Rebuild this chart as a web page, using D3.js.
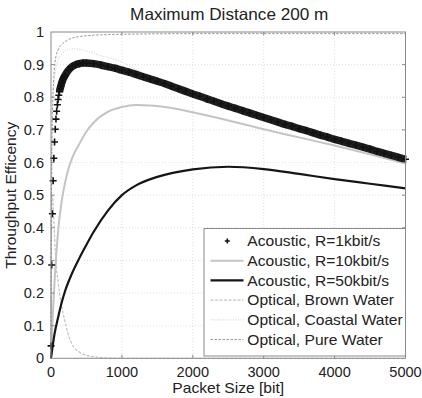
<!DOCTYPE html>
<html>
<head>
<meta charset="utf-8">
<script src="https://cdn.jsdelivr.net/npm/d3@7"></script>
<style>
  body { margin: 0; background: #fff; }
  text { font-family: "Liberation Sans", Arial, sans-serif; fill: #222; }
</style>
</head>
<body>
<div id="chart"></div>
<script>
// packet sizes [bit] and throughput efficiency
const r1Size = [1, 10, 20, 30, 40, 50, 60, 70, 80, 90, 100, 110, 120, 130, 140, 150, 160, 170, 180, 190, 200,
    250, 300, 350, 400, 450, 500, 600, 700, 800, 900, 1000, 1100, 1200, 1300, 1400, 1500, 1600, 1700, 1800, 1900,
    2000, 2100, 2200, 2300, 2400, 2500, 2600, 2700, 2800, 2900, 3000, 3100, 3200, 3300, 3400, 3500, 3600, 3700,
    3800, 3900, 4000, 4100, 4200, 4300, 4400, 4500, 4600, 4700, 4800, 4900, 5000];
const r1Eff = [0.038, 0.286, 0.443, 0.544, 0.613, 0.663, 0.702, 0.733, 0.757, 0.777, 0.793, 0.806, 0.817, 0.827, 0.835,
    0.843, 0.849, 0.855, 0.860, 0.864, 0.868, 0.884, 0.894, 0.900, 0.903, 0.905, 0.905, 0.903, 0.899, 0.894, 0.889,
    0.883, 0.877, 0.870, 0.863, 0.856, 0.849, 0.842, 0.834, 0.826, 0.818, 0.810, 0.803, 0.795, 0.788, 0.780, 0.773,
    0.766, 0.759, 0.752, 0.745, 0.738, 0.731, 0.724, 0.717, 0.711, 0.704, 0.698, 0.691, 0.684, 0.678, 0.671, 0.665,
    0.659, 0.653, 0.647, 0.641, 0.634, 0.628, 0.622, 0.616, 0.610];

const r10Size = [0, 25, 50, 75, 100, 150, 200, 250, 300, 400, 500, 600, 800, 1000, 1200, 1400, 1700, 2000, 2500, 3000, 3500, 4000, 4500, 5000];
const r10Eff = [0, 0.13, 0.235, 0.32, 0.39, 0.48, 0.54, 0.583, 0.615, 0.657, 0.695, 0.722, 0.755, 0.770, 0.776, 0.775, 0.767, 0.754, 0.729, 0.702, 0.677, 0.652, 0.625, 0.597];

const r50Size = [0, 50, 100, 150, 200, 300, 400, 500, 600, 800, 1000, 1200, 1500, 2000, 2500, 3000, 3500, 4000, 4500, 5000];
const r50Eff = [0, 0.075, 0.125, 0.17, 0.207, 0.262, 0.307, 0.348, 0.387, 0.452, 0.50, 0.53, 0.556, 0.579, 0.587, 0.58, 0.565, 0.549, 0.535, 0.521];

const brownSize = [0, 5, 10, 20, 30, 45, 60, 80, 100, 120, 150, 200, 250, 300, 400, 500, 650, 800, 1000, 5000];
const brownEff = [0, 0.35, 0.47, 0.50, 0.47, 0.40, 0.33, 0.27, 0.235, 0.2, 0.16, 0.11, 0.068, 0.042, 0.019, 0.009, 0.004, 0.001, 0, 0];

const coastalSize = [0, 10, 20, 40, 70, 100, 150, 200, 300, 400, 500, 700, 1000, 1300, 1500, 2000, 2500, 3000, 3500, 4000, 4500, 5000];
const coastalEff = [0, 0.5, 0.7, 0.83, 0.89, 0.915, 0.932, 0.942, 0.948, 0.947, 0.942, 0.928, 0.908, 0.872, 0.852, 0.812, 0.775, 0.74, 0.706, 0.673, 0.643, 0.612];

const pureSize = [0, 5, 10, 20, 40, 70, 100, 165, 250, 400, 600, 1000, 2000, 3000, 5000];
const pureEff = [0, 0.4, 0.6, 0.75, 0.86, 0.925, 0.945, 0.964, 0.977, 0.986, 0.99, 0.993, 0.995, 0.995, 0.995];

const xTicks = [0, 1000, 2000, 3000, 4000, 5000];
const yTicks = [0, 0.1, 0.2, 0.3, 0.4, 0.5, 0.6, 0.7, 0.8, 0.9, 1];

const legendLabels = ['Acoustic, R=1kbit/s', 'Acoustic, R=10kbit/s', 'Acoustic, R=50kbit/s',
    'Optical, Brown Water', 'Optical, Coastal Water', 'Optical, Pure Water'];

const zip = (xs, ys) => xs.map((x, i) => ({ x: x, y: ys[i] }));

const margin = { top: 32, left: 51 };

const svg = d3.select('#chart')
    .append('svg')
    .attr('width', 422)
    .attr('height', 398)
    .append('g')
    .attr('transform', `translate(${margin.left}, ${margin.top})`);

const xScale = d3.scaleLinear().domain([0, 5000]).range([0, 354.5]);
const yScale = d3.scaleLinear().domain([0, 1]).range([326.3, 0]);
const W = xScale(5000), H = yScale(0);

// text a little wider than Liberation Sans, like the original
function label(g, x, y, str, size, anchor, rot) {
    return g.append('text')
        .attr('transform', `translate(${x}, ${y})${rot ? ' rotate(-90)' : ''} scale(1.04, 1)`)
        .attr('text-anchor', anchor || 'start')
        .style('font-size', size + 'px')
        .text(str);
}

// grid
svg.append('g')
    .selectAll('line')
    .data(xTicks.slice(1, -1))
    .enter()
    .append('line')
    .attr('x1', (d) => xScale(d)).attr('x2', (d) => xScale(d))
    .attr('y1', 0).attr('y2', H)
    .attr('stroke', '#d8d8d8').attr('stroke-width', 0.8).attr('stroke-dasharray', '1,2');

svg.append('g')
    .selectAll('line')
    .data(yTicks.slice(1, -1))
    .enter()
    .append('line')
    .attr('y1', (d) => yScale(d)).attr('y2', (d) => yScale(d))
    .attr('x1', 0).attr('x2', W)
    .attr('stroke', '#d8d8d8').attr('stroke-width', 0.8).attr('stroke-dasharray', '1,2');

const line = d3.line()
    .x((d) => xScale(d.x))
    .y((d) => yScale(d.y))
    .curve(d3.curveMonotoneX);

// optical curves
svg.append('path')
    .datum(zip(brownSize, brownEff))
    .attr('d', line)
    .attr('fill', 'none').attr('stroke', '#c2c2c2').attr('stroke-width', 1.2)
    .attr('stroke-dasharray', '3,1.5');

svg.append('path')
    .datum(zip(coastalSize, coastalEff))
    .attr('d', line)
    .attr('fill', 'none').attr('stroke', '#d6d6d6').attr('stroke-width', 1.2)
    .attr('stroke-dasharray', '1,1.5');

svg.append('path')
    .datum(zip(pureSize, pureEff))
    .attr('d', line)
    .attr('fill', 'none').attr('stroke', '#9a9a9a').attr('stroke-width', 1)
    .attr('stroke-dasharray', '2.5,1.5');

// acoustic curves
svg.append('path')
    .datum(zip(r10Size, r10Eff))
    .attr('d', line)
    .attr('fill', 'none').attr('stroke', '#c4c4c4').attr('stroke-width', 2);

svg.append('path')
    .datum(zip(r50Size, r50Eff))
    .attr('d', line)
    .attr('fill', 'none').attr('stroke', '#151515').attr('stroke-width', 2.2);

const r1Points = zip(r1Size, r1Eff);

// the markers overlap into a solid band, draw it underneath
svg.append('path')
    .datum(r1Points.filter((d) => d.x >= 120))
    .attr('d', line)
    .attr('fill', 'none').attr('stroke', '#1e1e1e').attr('stroke-width', 7.5);

svg.append('g')
    .selectAll('path')
    .data(r1Points)
    .enter()
    .append('path')
    .attr('transform', (d) => `translate(${xScale(d.x)}, ${yScale(d.y)})`)
    .attr('d', 'M-3.5,0H3.5M0,-3.5V3.5')
    .attr('stroke', '#111').attr('stroke-width', 1.6);

// frame + inward ticks
svg.append('rect')
    .attr('width', W).attr('height', H)
    .attr('fill', 'none').attr('stroke', '#8a8a8a').attr('stroke-width', 1);

xTicks.slice(1, -1).forEach((t) => {
    svg.append('line').attr('x1', xScale(t)).attr('x2', xScale(t)).attr('y1', H).attr('y2', H - 3.5)
        .attr('stroke', '#8a8a8a');
    svg.append('line').attr('x1', xScale(t)).attr('x2', xScale(t)).attr('y1', 0).attr('y2', 3.5)
        .attr('stroke', '#8a8a8a');
});
yTicks.slice(1, -1).forEach((t) => {
    svg.append('line').attr('y1', yScale(t)).attr('y2', yScale(t)).attr('x1', 0).attr('x2', 3.5)
        .attr('stroke', '#8a8a8a');
    svg.append('line').attr('y1', yScale(t)).attr('y2', yScale(t)).attr('x1', W).attr('x2', W - 3.5)
        .attr('stroke', '#8a8a8a');
});

// tick labels
xTicks.forEach((t) => label(svg, xScale(t), H + 18.5, t, 14, 'middle'));
yTicks.forEach((t) => label(svg, -7, yScale(t) + 5, t, 14, 'end'));

label(svg, W / 2, H + 35, 'Packet Size [bit]', 15, 'middle');
label(svg, -35, H / 2, 'Throughput Efficency', 15, 'middle', true);
label(svg, W / 2 + 1, -12, 'Maximum Distance 200 m', 16.5, 'middle');

// legend
const lg = svg.append('g').attr('transform', `translate(${204 - margin.left}, ${228.5 - margin.top})`);
lg.append('rect')
    .attr('width', 201.5).attr('height', 127.5)
    .attr('fill', '#fff').attr('stroke', '#8a8a8a');

const legendStyles = [
    { marker: true },
    { stroke: '#c4c4c4', width: 2, dash: null },
    { stroke: '#151515', width: 2.2, dash: null },
    { stroke: '#c2c2c2', width: 1.2, dash: '3,1.5' },
    { stroke: '#d6d6d6', width: 1.2, dash: '1,1.5' },
    { stroke: '#9a9a9a', width: 1, dash: '2.5,1.5' },
];

legendLabels.forEach((name, i) => {
    const cy = 12.5 + i * 19.7;
    const s = legendStyles[i];
    if (s.marker) {
        lg.append('path')
            .attr('transform', `translate(23.3, ${cy})`)
            .attr('d', 'M-2.5,0H2.5M0,-2.5V2.5')
            .attr('stroke', '#111').attr('stroke-width', 1.6);
    } else {
        lg.append('line')
            .attr('x1', 6.5).attr('x2', 39.5).attr('y1', cy).attr('y2', cy)
            .attr('stroke', s.stroke).attr('stroke-width', s.width)
            .attr('stroke-dasharray', s.dash);
    }
    label(lg, 43.3, cy + 5.3, name, 15, 'start');
});
</script>
</body>
</html>
